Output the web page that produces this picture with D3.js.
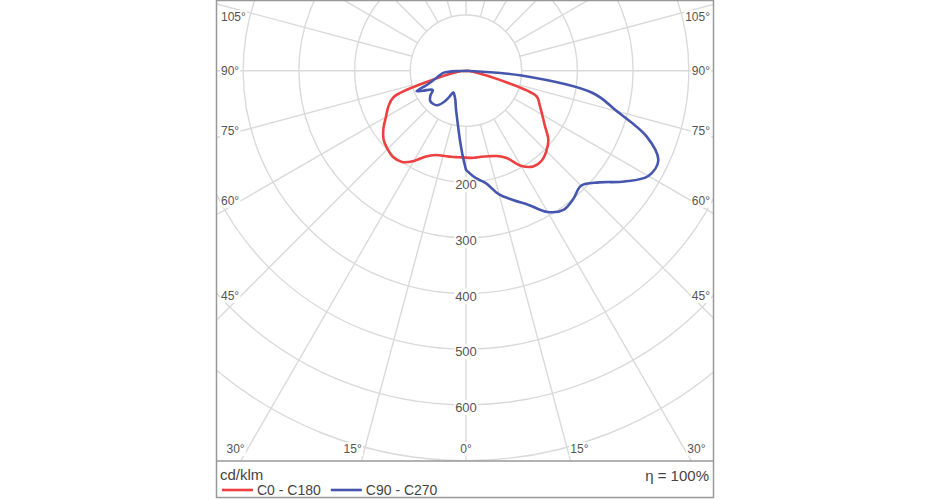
<!DOCTYPE html>
<html><head><meta charset="utf-8">
<script src="https://cdn.jsdelivr.net/npm/d3@7"></script>
<style>body{margin:0;background:#fff;} svg{display:block;font-family:"Liberation Sans",Arial,sans-serif;}</style>
</head><body><svg id="c" width="930" height="500"></svg>
<script>
// ---- data (cd/klm) ----
const gammaRed = [0,5,10,15,20,25,30,35,40,45,50,55,60,65,70,75,80,85,90];
const c0   = [156,157,157,159,163,173,197,210,211,204,193,173,158,146,135,60,20,6,0];
const c180 = [156,156,157,158,161,170,187,200,203,199,193,181,166,154,138,60,22,8,0];
const gammaC90 = [0,5,10,15,20,25,30,35,40,45,50,55,60,65,70,75,80,85,90];
const c90  = [178,193,205,230,247,266,293,305,300,292,312,347,378,381,345,280,231,100,0];
const gammaC270 = [0,2.5,5,7.5,10,15,20,25,30,32.5,35,40,45,50,55,60,65,67.5,70,75,80,85,90];
const c270 = [178,150,125,105,90,70,56,49,45,55,68,81,84,84,78,69,85,96,75,58,48,40,0];
const ringValues = [100,200,300,400,500,600,700];
const ringLabels = ["200","300","400","500","600"];
const sideAngles = [105,90,75,60,45];
const bottomAngles = [30,15,0];
const legendItems = [{name:"C0 - C180", color:"#ee4040"},{name:"C90 - C270", color:"#4655ad"}];
const unitLabel = "cd/klm";
const effLabel = "η = 100%";

// ---- layout ----
const svg = d3.select("#c");
const frame = {x0:216.5, y0:0.5, x1:713.5, y1:497.5, sep:461};
const cx = 466, cy = 70.7;
const r = d3.scaleLinear().domain([0,100]).range([0,55.7]);
const gridColor = "#dadada", textColor = "#555";

svg.append("defs").append("clipPath").attr("id","plot")
  .append("rect").attr("x",frame.x0).attr("y",frame.y0)
  .attr("width",frame.x1-frame.x0).attr("height",frame.sep-frame.y0);

const plot = svg.append("g").attr("clip-path","url(#plot)");
const g = plot.append("g").attr("transform",`translate(${cx},${cy})`);
const rad = d => d*Math.PI/180;

// rings
g.selectAll("circle.ring").data(ringValues).join("circle")
  .attr("r", d=>r(d)).attr("fill","none").attr("stroke",gridColor).attr("stroke-width",1.4);

// radial lines every 15 degrees
const spokeData = [];
d3.range(0,181,15).forEach(a=>{ spokeData.push({a, s:1}); if(a>0&&a<180) spokeData.push({a, s:-1}); });
g.selectAll("line.spoke").data(spokeData).join("line")
  .attr("x1",d=>d.s*r(100)*Math.sin(rad(d.a))).attr("y1",d=>r(100)*Math.cos(rad(d.a)))
  .attr("x2",d=>d.s*r(1200)*Math.sin(rad(d.a))).attr("y2",d=>r(1200)*Math.cos(rad(d.a)))
  .attr("stroke",gridColor).attr("stroke-width",1.4);

// label helper with white background
function label(parent, x, y, txt, anchor, size){
  const gg = parent.append("g");
  const t = gg.append("text").attr("x",x).attr("y",y).attr("text-anchor",anchor)
    .attr("dy","0.35em").attr("font-size",size).attr("fill",textColor).text(txt);
  const b = t.node().getBBox();
  gg.insert("rect","text").attr("x",b.x-1).attr("y",b.y).attr("width",b.width+2).attr("height",b.height).attr("fill","#fff");
}

// ring labels
ringLabels.forEach(l=>{ label(plot, cx, cy + r(+l) + 2.5, l, "middle", 13); });

// side angle labels
sideAngles.forEach(a=>{
  let y = cy + 225/Math.tan(rad(a));
  y = Math.max(17, y);
  label(plot, 221, y, a+"°", "start", 12);
  label(plot, 710, y, a+"°", "end", 12);
});
// bottom labels
bottomAngles.forEach(a=>{
  const dx = (449-cy)*Math.tan(rad(a));
  if(a===0){ label(plot, cx, 449, "0°", "middle", 12); return; }
  let xl = cx - dx - 12, xr = cx + dx + 12;
  xl = Math.max(232, xl); xr = Math.min(697, xr);
  label(plot, xl, 449, a+"°", "middle", 12);
  label(plot, xr, 449, a+"°", "middle", 12);
});

// curves (on top of labels)
const gc = plot.append("g").attr("transform",`translate(${cx},${cy})`);
function pts(gR, vR, gL, vL){
  const out = [];
  for(let i=gR.length-1;i>=0;i--) out.push({a:Math.PI - rad(gR[i]), v:vR[i]});
  for(let i=0;i<gL.length;i++) out.push({a:Math.PI + rad(gL[i]), v:vL[i]});
  return out;
}
const line = d3.lineRadial().angle(d=>d.a).radius(d=>r(d.v)).curve(d3.curveCatmullRom.alpha(0.5));
gc.append("path").attr("d", line(pts(gammaRed,c0,gammaRed,c180)))
  .attr("fill","none").attr("stroke",legendItems[0].color).attr("stroke-width",2.6).attr("stroke-linejoin","round");
gc.append("path").attr("d", line(pts(gammaC90,c90,gammaC270,c270)))
  .attr("fill","none").attr("stroke",legendItems[1].color).attr("stroke-width",2.6).attr("stroke-linejoin","round");

// frame
svg.append("rect").attr("x",frame.x0).attr("y",frame.y0).attr("width",frame.x1-frame.x0).attr("height",frame.y1-frame.y0)
  .attr("fill","none").attr("stroke","#999").attr("stroke-width",1.5);
svg.append("line").attr("x1",frame.x0).attr("x2",frame.x1).attr("y1",frame.sep).attr("y2",frame.sep)
  .attr("stroke","#999").attr("stroke-width",1.5);

// legend
svg.append("text").attr("x",220).attr("y",480).attr("font-size",15).attr("fill","#444").text(unitLabel);
svg.append("text").attr("x",709).attr("y",481).attr("text-anchor","end").attr("font-size",15).attr("fill","#444").text(effLabel);
let lx = 222;
legendItems.forEach(it=>{
  svg.append("line").attr("x1",lx).attr("x2",lx+31).attr("y1",490).attr("y2",490).attr("stroke",it.color).attr("stroke-width",2.6);
  const t = svg.append("text").attr("x",lx+35).attr("y",495).attr("font-size",14).attr("fill","#444").text(it.name);
  lx += 35 + t.node().getComputedTextLength() + 10;
});
</script></body></html>
